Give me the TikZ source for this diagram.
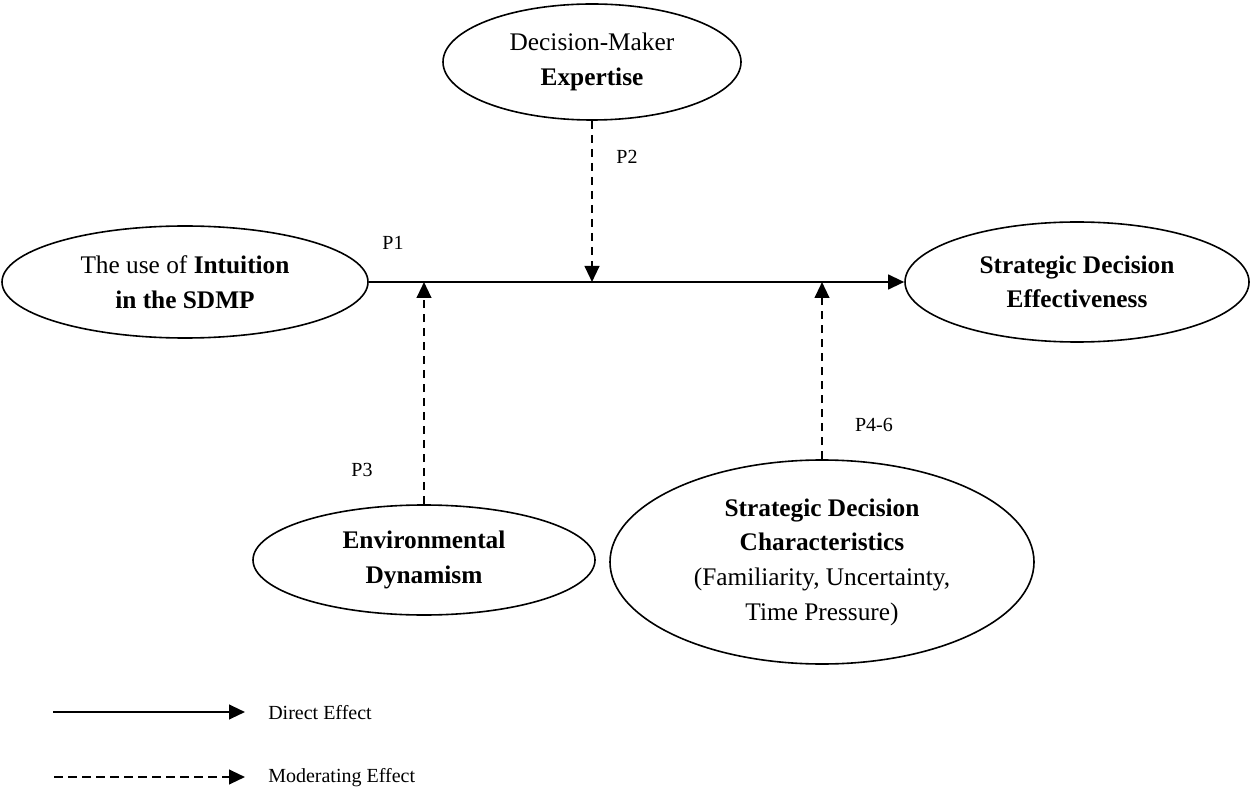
\documentclass[tikz,border=0pt]{standalone}
\usepackage{fontspec}
\setmainfont{Liberation Serif}
\usetikzlibrary{shapes.geometric,arrows.meta}
\begin{document}
\begin{tikzpicture}[x=0.75pt,y=-0.75pt,
  construct/.style={ellipse,draw,line width=1.2pt,inner sep=0pt,align=center,font=\fontsize{19}{26}\selectfont},
  direct/.style={line width=1.6pt,-{Triangle[length=12pt,width=11pt]}},
  moder/.style={line width=1.6pt,dash pattern=on 6.5pt off 4pt,-{Triangle[length=12pt,width=11pt]}},
  plabel/.style={font=\fontsize{15}{18}\selectfont,inner sep=0pt}]
\useasboundingbox (0,0) rectangle (1251,787);
% constructs
\node[construct,minimum width=274.5pt,minimum height=84pt] (intu) at (185,282)
  {The use of \textbf{Intuition}\\\textbf{in the SDMP}};
\node[construct,minimum width=258pt,minimum height=90pt] (sde) at (1077,282)
  {\textbf{Strategic Decision}\\\textbf{Effectiveness}};
\node[construct,minimum width=223.5pt,minimum height=87pt] (dme) at (592,62)
  {Decision-Maker\\\textbf{Expertise}};
\node[construct,minimum width=256.5pt,minimum height=82.5pt] (env) at (424,560)
  {\textbf{Environmental}\\\textbf{Dynamism}};
\node[construct,minimum width=318pt,minimum height=153pt] (sdc) at (822,562)
  {\textbf{Strategic Decision}\\\textbf{Characteristics}\\(Familiarity, Uncertainty,\\Time Pressure)};
% junctions on the main path
\coordinate (j2) at (dme.south |- intu.east);
\coordinate (j3) at (env.north |- intu.east);
\coordinate (j4) at (sdc.north |- intu.east);
% connectors
\draw[direct] (intu.east) -- (sde.west);
\draw[moder] (dme.south) -- (j2);
\draw[moder] (env.north) -- (j3);
\draw[moder] (sdc.north) -- (j4);
% labels
\node[plabel] (p1) at (393,243) {P1};
\node[plabel] (p2) at (627,157) {P2};
\node[plabel] (p3) at (362,470) {P3};
\node[plabel] (p4) at (874,425) {P4-6};
% legend
\coordinate (l1s) at (53,712);
\coordinate (l1e) at (245,712);
\coordinate (l2s) at (54,777);
\coordinate (l2e) at (245,777);
\draw[direct] (l1s) -- (l1e);
\draw[moder] (l2s) -- (l2e);
\node[plabel,anchor=west] (lt1) at (268,713) {Direct Effect};
\node[plabel,anchor=west] (lt2) at (268,778) {Moderating Effect};
\end{tikzpicture}
\end{document}
